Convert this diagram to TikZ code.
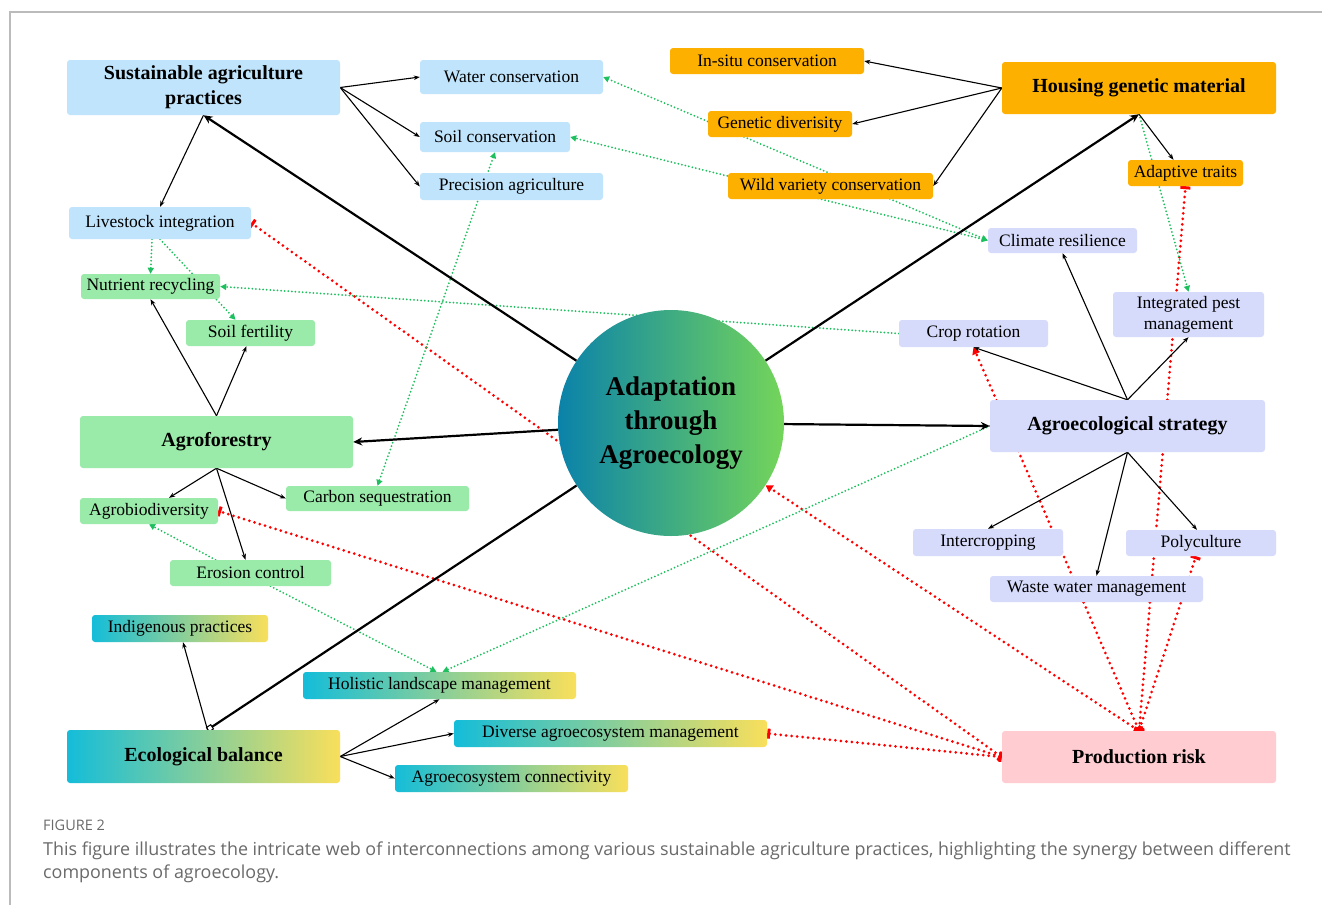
\documentclass[tikz,border=0pt]{standalone}
\usepackage{fontspec}
\setmainfont{Liberation Serif}
\newfontfamily\capfont{Open Sans}
\usetikzlibrary{arrows.meta,calc}
\definecolor{lblue}{HTML}{C0E4FB}
\definecolor{lgreen}{HTML}{9AEBA9}
\definecolor{orng}{HTML}{FDB000}
\definecolor{lav}{HTML}{D7DBFB}
\definecolor{pinkr}{HTML}{FFCCD2}
\definecolor{gcyan}{HTML}{14BDD9}
\definecolor{gyel}{HTML}{F9DF5B}
\definecolor{circL}{HTML}{0A82AA}
\definecolor{circR}{HTML}{74D55A}
\definecolor{grnline}{HTML}{1DBF5E}
\definecolor{redline}{HTML}{FF0000}
\definecolor{capgray}{HTML}{6A6A6A}
\definecolor{framegray}{HTML}{BBBBBB}
\pgfdeclarelayer{bg}
\pgfdeclarelayer{paper}
\pgfsetlayers{paper,bg,main}
\begin{document}
\begin{tikzpicture}[x=1pt,y=-1pt,
  box/.style={rounded corners=3pt, inner sep=0pt, align=center, font=\fontsize{17.5}{20}\selectfont},
  bigbox/.style={rounded corners=3pt, inner sep=0pt, align=center, font=\fontsize{20}{25}\selectfont\bfseries},
  bluebox/.style={fill=lblue},
  greenbox/.style={fill=lgreen},
  orangebox/.style={fill=orng},
  lavbox/.style={fill=lav},
  pinkbox/.style={fill=pinkr},
  gradbox/.style={left color=gcyan, right color=gyel},
  thn/.style={draw=black, line width=1.1pt, -{Stealth[length=6pt,width=4.5pt]}},
  thk/.style={draw=black, line width=2.2pt, -{Stealth[length=9pt,width=8pt]}},
  grn/.style={draw=grnline, line width=2pt, line cap=round, dash pattern=on 0pt off 3.6pt, -{Triangle[length=6pt,width=6pt]}},
  grnboth/.style={grn, {Triangle[length=6pt,width=6pt]}-{Triangle[length=6pt,width=6pt]}},
  rd/.style={draw=redline, line width=3pt, line cap=round, dash pattern=on 0pt off 5.5pt},
  rdbar/.style={rd, {Bar[width=10pt,line width=3pt]}-{Bar[width=10pt,line width=3pt]}},
  rdarr/.style={rd, {Bar[width=10pt,line width=3pt]}-{Triangle[length=7pt,width=8pt]}}
]
\useasboundingbox (0,0) rectangle (1322,905);
\begin{pgfonlayer}{paper}
\fill[white] (0,0) rectangle (1322,905);
\draw[framegray, line width=1.3pt] (10,905) |- (1322,12);
\end{pgfonlayer}

% ---- nodes ----
\node[bigbox, bluebox, minimum width=273pt, minimum height=55pt] (sap) at (203.5,87.5) {Sustainable agriculture\\practices};
\node[box, bluebox, minimum width=183pt, minimum height=34pt] (wc) at (511.5,77) {Water conservation};
\node[box, bluebox, minimum width=150pt, minimum height=30pt] (sc) at (495,137) {Soil conservation};
\node[box, bluebox, minimum width=183pt, minimum height=27pt] (pa) at (511.5,186.5) {Precision agriculture};
\node[box, bluebox, minimum width=182pt, minimum height=32pt] (li) at (160,223) {Livestock integration};

\node[box, greenbox, minimum width=139pt, minimum height=25pt] (nr) at (150.5,286.5) {Nutrient recycling};
\node[box, greenbox, minimum width=129pt, minimum height=26pt] (sf) at (250.5,333) {Soil fertility};
\node[bigbox, greenbox, minimum width=273pt, minimum height=52pt] (af) at (216.5,442) {Agroforestry};
\node[box, greenbox, minimum width=138pt, minimum height=26pt] (ab) at (149,511) {Agrobiodiversity};
\node[box, greenbox, minimum width=183pt, minimum height=25pt] (cs) at (377.5,498.5) {Carbon sequestration};
\node[box, greenbox, minimum width=161pt, minimum height=26pt] (ec) at (250.5,573) {Erosion control};

\node[box, gradbox, minimum width=176pt, minimum height=27pt] (ip) at (180,628.5) {Indigenous practices};
\node[box, gradbox, minimum width=273pt, minimum height=27pt] (hlm) at (439.5,685.5) {Holistic landscape management};
\node[box, gradbox, minimum width=313pt, minimum height=27pt] (dam) at (610.5,733.5) {Diverse agroecosystem management};
\node[bigbox, gradbox, minimum width=273pt, minimum height=53pt] (eb) at (203.5,756.5) {Ecological balance};
\node[box, gradbox, minimum width=233pt, minimum height=27pt] (acn) at (511.5,778.5) {Agroecosystem connectivity};

\node[circle, minimum size=226pt, inner sep=0pt, left color=circL, right color=circR, align=center, font=\fontsize{27}{34}\selectfont\bfseries] (circ) at (671,423) {Adaptation\\through\\Agroecology};

\node[box, orangebox, minimum width=194pt, minimum height=26pt] (isc) at (767,61) {In-situ conservation};
\node[box, orangebox, minimum width=144pt, minimum height=26pt] (gd) at (780,124) {Genetic diverisity};
\node[box, orangebox, minimum width=205pt, minimum height=26pt] (wvc) at (830.5,186) {Wild variety conservation};
\node[bigbox, orangebox, minimum width=274pt, minimum height=52pt] (hgm) at (1139,88) {Housing genetic material};
\node[box, orangebox, minimum width=115pt, minimum height=26pt] (at) at (1185.5,173) {Adaptive traits};

\node[box, lavbox, minimum width=149pt, minimum height=25pt] (cr) at (1062.5,240.5) {Climate resilience};
\node[box, lavbox, minimum width=151pt, minimum height=45pt, font=\fontsize{17.5}{21}\selectfont] (ipm) at (1188.5,314.5) {Integrated pest\\management};
\node[box, lavbox, minimum width=149pt, minimum height=27pt] (crot) at (973.5,333.5) {Crop rotation};
\node[bigbox, lavbox, minimum width=275pt, minimum height=52pt] (as) at (1127.5,426) {Agroecological strategy};
\node[box, lavbox, minimum width=150pt, minimum height=27pt] (ic) at (988,542.5) {Intercropping};
\node[box, lavbox, minimum width=150pt, minimum height=26pt] (pc) at (1201,543) {Polyculture};
\node[box, lavbox, minimum width=213pt, minimum height=26pt] (wwm) at (1096.5,589) {Waste water management};

\node[bigbox, pinkbox, minimum width=274pt, minimum height=52pt] (pr) at (1139,757) {Production risk};

% caption
\node[anchor=base west, inner sep=0pt, text=capgray, font=\capfont\fontsize{14.5}{17}\selectfont] (figlab) at (43,830) {FIGURE 2};
\node[anchor=base west, inner sep=0pt, text=capgray, font=\capfont\fontsize{17.9}{22}\selectfont] (cap1) at (43,855) {This figure illustrates the intricate web of interconnections among various sustainable agriculture practices, highlighting the synergy between different};
\node[anchor=base west, inner sep=0pt, text=capgray, font=\capfont\fontsize{17.9}{22}\selectfont] (cap2) at (43,878) {components of agroecology.};

% ---- connectors ----
\begin{pgfonlayer}{bg}
% red inhibition lines
\draw[rdbar] (pr.west) -- (li.east);
\draw[rdbar] (pr.west) -- (ab.east);
\draw[rdbar] (pr.west) -- (dam.east);
\draw[rdarr] (pr.north) -- (circ);
\draw[rdarr] (pr.north) -- (crot.south);
\draw[rdbar] (pr.north) -- (at.south);
\draw[rdbar] (pr.north) -- ([xshift=-5pt]pc.south);

% green dotted
\draw[grnboth] (cr.west) -- (wc.east);
\draw[grnboth] (cr.west) -- (sc.east);
\draw[grn] ([xshift=-8pt]li.south) -- (nr.north);
\draw[grn] (li.south) -- ([xshift=-15pt]sf.north);
\draw[grn] (crot.west) -- (nr.east);
\draw[grnboth] (sc.south) -- (cs.north);
\draw[grn] ([xshift=-35pt]ec.north) -- (ab.south);
\draw[grn] ([xshift=20pt]ec.south) -- ([xshift=-3pt]hlm.north);
\draw[grn] (as.west) -- ([xshift=3pt]hlm.north);
\draw[grn] (hgm.south) -- (ipm.north);

% thin black
\draw[thn] (sap.east) -- (wc.west);
\draw[thn] (sap.east) -- (sc.west);
\draw[thn] (sap.east) -- (pa.west);
\draw[thn] (sap.south) -- (li.north);
\draw[thn] (af.north) -- (nr.south);
\draw[thn] (af.north) -- ([xshift=-4pt]sf.south);
\draw[thn] (af.south) -- ([xshift=20pt]ab.north);
\draw[thn] (af.south) -- (cs.west);
\draw[thn] (af.south) -- ([xshift=-5pt]ec.north);
\draw[thn] (hgm.west) -- (isc.east);
\draw[thn] (hgm.west) -- (gd.east);
\draw[thn] (hgm.west) -- (wvc.east);
\draw[thn] (hgm.south) -- ([xshift=-12pt]at.north);
\draw[thn] (as.north) -- (crot.south);
\draw[thn] (as.north) -- (cr.south);
\draw[thn] (as.north) -- (ipm.south);
\draw[thn] (as.south) -- (ic.north);
\draw[thn] (as.south) -- (wwm.north);
\draw[thn] (as.south) -- ([xshift=-4pt]pc.north);
\draw[thn] ([xshift=4pt]eb.north) -- ([xshift=3pt]ip.south);
\draw[thn] (eb.east) -- (hlm.south);
\draw[thn] (eb.east) -- (dam.west);
\draw[thn] (eb.east) -- (acn.west);

% thick black
\draw[thk] (circ) -- (sap.south);
\draw[thk] (circ) -- (af.east);
\draw[thk] (circ) -- (hgm.south);
\draw[thk] (circ) -- (as.west);
\draw[draw=black, line width=2.2pt, -{Square[open,length=6pt,width=6pt,line width=1pt]}] (circ) -- ([xshift=4pt]eb.north);
\end{pgfonlayer}
\end{tikzpicture}
\end{document}
